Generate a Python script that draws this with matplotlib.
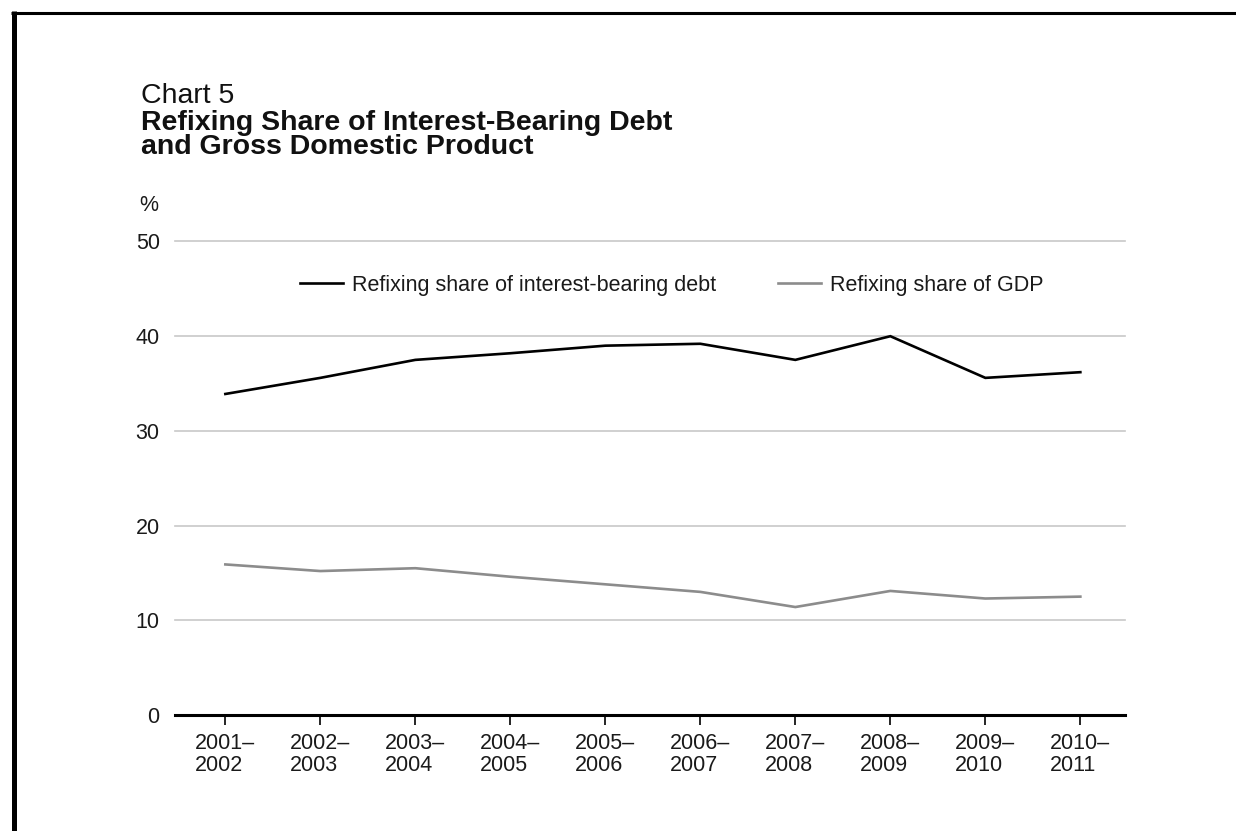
import matplotlib
matplotlib.use("Agg")
import matplotlib.pyplot as plt
from matplotlib.lines import Line2D

periods = ["2001–\n2002", "2002–\n2003", "2003–\n2004", "2004–\n2005", "2005–\n2006",
           "2006–\n2007", "2007–\n2008", "2008–\n2009", "2009–\n2010", "2010–\n2011"]
debt_share = [33.9, 35.6, 37.5, 38.2, 39.0, 39.2, 37.5, 40.0, 35.6, 36.2]
gdp_share = [15.9, 15.2, 15.5, 14.6, 13.8, 13.0, 11.4, 13.1, 12.3, 12.5]
yticks = [0, 10, 20, 30, 40, 50]

plt.rcParams['font.family'] = ['Liberation Sans', 'DejaVu Sans']

W, H = 1236, 831
fig = plt.figure(figsize=(W / 100, H / 100), dpi=100)
fig.patch.set_facecolor('white')

# axes placement in pixels
left, right, bottom, top = 175, 1125, 715, 241.5
ax = fig.add_axes([left / W, 1 - bottom / H, (right - left) / W, (bottom - top) / H])

x = list(range(len(periods)))
ax.plot(x, debt_share, color='black', lw=1.9, label='Refixing share of interest-bearing debt',
        solid_joinstyle='miter', zorder=3)
ax.plot(x, gdp_share, color='#8c8c8c', lw=1.9, label='Refixing share of GDP',
        solid_joinstyle='miter', zorder=3)

ax.set_xlim(-0.53, 9.47)
ax.set_ylim(0, 50)
ax.set_yticks(yticks)
ax.set_yticklabels([str(v) for v in yticks])
ax.set_xticks(x)
ax.set_xticklabels(periods, multialignment='left', linespacing=1.05)

for v in yticks[1:]:
    ax.axhline(v, color='#c8c8c8', lw=1.2, zorder=1, clip_on=False)

for s in ['top', 'right', 'left']:
    ax.spines[s].set_visible(False)
ax.spines['bottom'].set_linewidth(2.2)
ax.spines['bottom'].set_color('black')
ax.spines['bottom'].set_zorder(4)

ax.tick_params(axis='y', length=0, pad=11, labelsize=15.5, colors='#1a1a1a')
ax.tick_params(axis='x', length=7, width=1.2, direction='out', pad=6,
               labelsize=15.5, colors='black', labelcolor='#1a1a1a')

leg = ax.legend(loc='center left', bbox_to_anchor=(300 / W, 1 - 285 / H),
                bbox_transform=fig.transFigure, ncol=2, frameon=False,
                fontsize=15.5, handlelength=2.0, handletextpad=0.42,
                columnspacing=2.85, borderpad=0, borderaxespad=0)
for t in leg.get_texts():
    t.set_color('#1a1a1a')

# titles
fig.text(141 / W, 1 - 102.7 / H, 'Chart 5', fontsize=20.5, va='baseline', ha='left', color='#111111')
fig.text(141 / W, 1 - 130 / H, 'Refixing Share of Interest-Bearing Debt', fontsize=20.5,
         fontweight='bold', va='baseline', ha='left', color='#111111')
fig.text(141 / W, 1 - 154 / H, 'and Gross Domestic Product', fontsize=20.5,
         fontweight='bold', va='baseline', ha='left', color='#111111')
fig.text(139 / W, 1 - 211 / H, '%', fontsize=15.5, va='baseline', ha='left', color='#1a1a1a')

# frame lines (top and left)
fig.add_artist(Line2D([11 / W, 1], [1 - 12.5 / H, 1 - 12.5 / H], transform=fig.transFigure,
                      color='black', lw=2.2, solid_capstyle='butt'))
fig.add_artist(Line2D([13.5 / W, 13.5 / W], [1 - 11 / H, 0], transform=fig.transFigure,
                      color='black', lw=3.6, solid_capstyle='butt'))

fig.savefig('out.png', dpi=100, facecolor='white')
